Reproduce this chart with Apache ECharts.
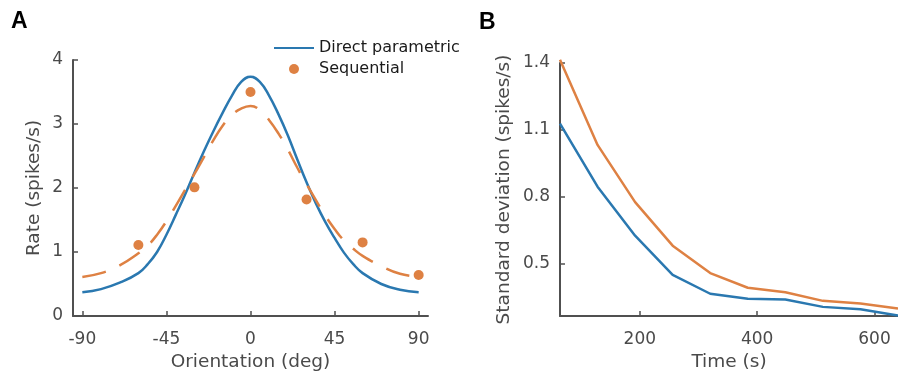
<!DOCTYPE html>
<html>
<head>
<meta charset="utf-8">
<script src="https://cdn.jsdelivr.net/npm/echarts@6/dist/echarts.min.js"></script>
<style>
  html, body { margin: 0; padding: 0; background: #fff; }
  #chart { width: 898px; height: 377px; }
</style>
</head>
<body>
<div id="chart"></div>
<script>
// panel A: tuning curve (rate vs orientation)
const directDeg = [-90, -80, -70, -60, -55, -50, -45, -40, -35, -30, -25, -20, -15, -10, -5, 0,
  5, 10, 15, 20, 25, 30, 35, 40, 45, 50, 55, 60, 70, 80, 90];
const directRate = [0.37, 0.42, 0.52, 0.67, 0.81, 1.00, 1.27, 1.58, 1.90, 2.24, 2.57, 2.88, 3.17, 3.44, 3.66, 3.74,
  3.66, 3.44, 3.15, 2.82, 2.45, 2.09, 1.76, 1.47, 1.22, 0.99, 0.81, 0.67, 0.50, 0.41, 0.37];

const fitDeg = [-90, -80, -70, -60, -55, -50, -45, -40, -35, -30, -25, -20, -15, -10, -5, 0,
  5, 10, 15, 20, 25, 30, 35, 40, 45, 50, 55, 60, 70, 80, 90];
const fitRate = [0.61, 0.67, 0.79, 0.98, 1.10, 1.27, 1.48, 1.72, 1.97, 2.22, 2.48, 2.74, 2.97, 3.14, 3.24, 3.28,
  3.22, 3.06, 2.85, 2.60, 2.32, 2.06, 1.81, 1.57, 1.36, 1.18, 1.05, 0.94, 0.78, 0.66, 0.61];

const seqDeg = [-60, -30, 0, 30, 60, 90];
const seqRate = [1.11, 2.01, 3.50, 1.82, 1.15, 0.64];

const degTicks = [-90, -45, 0, 45, 90];
const rateTicks = [0, 1, 2, 3, 4];

// panel B: standard deviation over time
const times = [64, 128, 192, 256, 320, 384, 448, 512, 576, 640];
const directSd = [1.128, 0.844, 0.624, 0.448, 0.363, 0.341, 0.337, 0.304, 0.293, 0.265];
const seqSd = [1.415, 1.032, 0.775, 0.579, 0.456, 0.390, 0.370, 0.331, 0.319, 0.297];

const timeTicks = [200, 400, 600];
const sdTicks = [0.5, 0.8, 1.1, 1.4];

const BLUE = '#2a78b0';
const ORANGE = '#de8143';
const AXIS = '#505050';
const LABEL = '#4a4a4a';
const FONT = 'DejaVu Sans';

function zip(xs, ys) {
  return xs.map((x, i) => [x, ys[i]]);
}

function xAxisOf(grid, min, max, ticks, name) {
  return {
    type: 'value', gridIndex: grid, min: min, max: max,
    name: name, nameLocation: 'middle', nameGap: 37,
    nameTextStyle: {color: LABEL, fontSize: 18.5, fontFamily: FONT},
    axisLine: {show: true, onZero: false, lineStyle: {color: AXIS, width: 2}},
    axisTick: {show: true, inside: true, length: 5, customValues: ticks, lineStyle: {color: AXIS, width: 1.5}},
    axisLabel: {customValues: ticks, margin: 15, color: LABEL, fontSize: 17, fontFamily: FONT},
    splitLine: {show: false}
  };
}

function yAxisOf(grid, min, max, ticks, name, gap, fmt) {
  return {
    type: 'value', gridIndex: grid, min: min, max: max,
    name: name, nameLocation: 'middle', nameGap: gap,
    nameTextStyle: {color: LABEL, fontSize: 18.5, fontFamily: FONT},
    axisLine: {show: true, onZero: false, lineStyle: {color: AXIS, width: 2}},
    axisTick: {show: true, inside: true, length: 5, customValues: ticks, lineStyle: {color: AXIS, width: 1.5}},
    axisLabel: {customValues: ticks, margin: 10, color: LABEL, fontSize: 17, fontFamily: FONT, formatter: fmt},
    splitLine: {show: false}
  };
}

const chart = echarts.init(document.getElementById('chart'));

const option = {
  animation: false,
  backgroundColor: '#fff',
  title: [
    {text: 'A', left: 11, top: 10, padding: 0,
      textStyle: {fontSize: 23, fontWeight: 'bold', color: '#000', fontFamily: 'Liberation Sans'}},
    {text: 'B', left: 479, top: 11, padding: 0,
      textStyle: {fontSize: 23, fontWeight: 'bold', color: '#000', fontFamily: 'Liberation Sans'}}
  ],
  legend: {
    orient: 'vertical',
    left: 273,
    top: 40,
    padding: 0,
    itemWidth: 40,
    itemHeight: 10,
    itemGap: 5,
    textStyle: {fontSize: 16, color: '#1a1a1a', fontFamily: FONT},
    data: [
      {name: 'Direct parametric', itemStyle: {opacity: 0}},
      {name: 'Sequential', icon: 'circle'}
    ]
  },
  grid: [
    {left: 73, top: 60, width: 355, height: 260},
    {left: 560, top: 63, width: 343, height: 258}
  ],
  xAxis: [
    xAxisOf(0, -95, 95, degTicks, 'Orientation (deg)'),
    xAxisOf(1, 64, 640, timeTicks, 'Time (s)')
  ],
  yAxis: [
    yAxisOf(0, 0, 4, rateTicks, 'Rate (spikes/s)', 29, v => String(v)),
    yAxisOf(1, 0.263, 1.4, sdTicks, 'Standard deviation (spikes/s)', 46, v => v.toFixed(1))
  ],
  series: [
    {
      name: 'Direct parametric', type: 'line', xAxisIndex: 0, yAxisIndex: 0,
      data: zip(directDeg, directRate), symbol: 'none', smooth: 0.45, z: 2,
      lineStyle: {color: BLUE, width: 2.5}, itemStyle: {color: BLUE}
    },
    {
      name: 'Sequential fit', type: 'line', xAxisIndex: 0, yAxisIndex: 0,
      data: zip(fitDeg, fitRate), symbol: 'none', smooth: 0.45, z: 3,
      lineStyle: {color: ORANGE, width: 2.5, type: [24, 15]}, itemStyle: {color: ORANGE}
    },
    {
      name: 'Sequential', type: 'scatter', xAxisIndex: 0, yAxisIndex: 0,
      data: zip(seqDeg, seqRate), symbolSize: 10, z: 4,
      itemStyle: {color: ORANGE, opacity: 1}
    },
    {
      name: 'Direct SD', type: 'line', xAxisIndex: 1, yAxisIndex: 1,
      data: zip(times, directSd), symbol: 'none', clip: false,
      lineStyle: {color: BLUE, width: 2.5}, itemStyle: {color: BLUE}
    },
    {
      name: 'Sequential SD', type: 'line', xAxisIndex: 1, yAxisIndex: 1,
      data: zip(times, seqSd), symbol: 'none', clip: false,
      lineStyle: {color: ORANGE, width: 2.5}, itemStyle: {color: ORANGE}
    }
  ]
};

chart.setOption(option);
</script>
</body>
</html>
